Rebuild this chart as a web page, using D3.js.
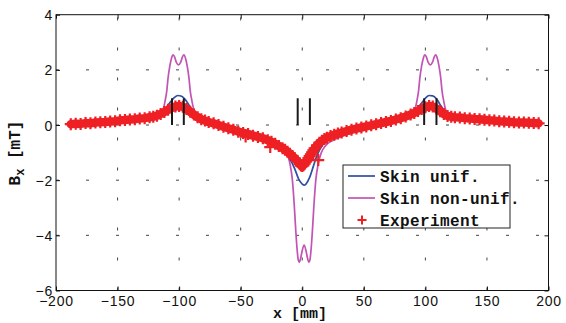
<!DOCTYPE html>
<html>
<head>
<meta charset="utf-8">
<script src="https://cdn.jsdelivr.net/npm/d3@7"></script>
<style>
  body { margin: 0; background: #fff; }
  .tick text { font-family: "Liberation Sans", Arial, sans-serif; font-size: 14px; letter-spacing: 0.8px; fill: #111; }
  .lbl { font-family: "Liberation Mono", "Courier New", monospace; font-weight: bold; font-size: 16px; fill: #111; }
</style>
</head>
<body>
<svg id="chart" width="566" height="323"></svg>
<script>
// tick values
const xTicks = [-200, -150, -100, -50, 0, 50, 100, 150, 200];
const yTicks = [-6, -4, -2, 0, 2, 4];

// Skin unif. (blue)
const unifX = [-190, -170, -150, -135, -125, -118, -113, -110, -107, -104, -101, -98, -95, -92, -89, -85, -78, -68, -55, -45, -35, -25, -17, -11, -6, -3, 0, 1.5, 3, 6, 9, 12, 16, 22, 30, 40, 55, 70, 80, 88, 93, 97, 100, 103, 106, 109, 112, 115, 119, 126, 140, 160, 190];
const unifY = [0.03, 0.07, 0.14, 0.21, 0.28, 0.38, 0.52, 0.66, 0.84, 0.99, 1.07, 1.04, 0.92, 0.72, 0.52, 0.36, 0.2, 0.04, -0.14, -0.27, -0.41, -0.6, -0.85, -1.15, -1.6, -1.95, -2.14, -2.18, -2.14, -1.9, -1.5, -1.1, -0.75, -0.5, -0.32, -0.18, 0.0, 0.15, 0.27, 0.42, 0.58, 0.8, 0.97, 1.07, 1.06, 0.95, 0.74, 0.55, 0.4, 0.28, 0.18, 0.1, 0.04];

// Skin non-unif. (magenta)
const nonUnifX = [-190, -150, -130, -120, -115, -113, -111.5, -110, -109, -107.5, -106, -105, -103.8, -102.3, -100.5, -98.7, -97.2, -96, -95, -93.5, -92, -91, -89.5, -88, -86, -80.5, -70, -55, -40, -30, -22, -16, -12.5, -10, -8, -6.5, -5.3, -4.2, -3.2, -2.4, -1.4, 0, 1.5, 3, 4.4, 5.4, 6.2, 7.2, 8.3, 9.5, 11, 13, 15.5, 19, 25, 33, 43, 58, 73, 84, 89.5, 91.5, 93, 94.5, 95.5, 97, 98.5, 99.5, 100.7, 102.2, 104, 105.8, 107.3, 108.5, 109.5, 111, 112.5, 113.5, 115, 116.5, 118.5, 124, 134, 154, 190];
const nonUnifY = [0.03, 0.13, 0.22, 0.3, 0.4, 0.55, 0.85, 1.25, 1.7, 2.15, 2.45, 2.54, 2.48, 2.28, 2.18, 2.28, 2.48, 2.54, 2.45, 2.15, 1.7, 1.25, 0.85, 0.55, 0.4, 0.3, 0.12, -0.08, -0.25, -0.4, -0.55, -0.75, -1.0, -1.4, -2.0, -2.9, -3.8, -4.5, -4.9, -4.98, -4.85, -4.55, -4.35, -4.55, -4.85, -4.98, -4.9, -4.5, -3.8, -2.9, -2.0, -1.4, -1.0, -0.75, -0.55, -0.4, -0.25, -0.08, 0.12, 0.3, 0.4, 0.55, 0.85, 1.25, 1.7, 2.15, 2.45, 2.54, 2.48, 2.28, 2.18, 2.28, 2.48, 2.54, 2.45, 2.15, 1.7, 1.25, 0.85, 0.55, 0.4, 0.3, 0.22, 0.13, 0.05];

// Experiment (red +)
const expX = [-188, -184, -180, -176, -172, -168, -164, -160, -156, -152, -148, -144, -140, -136, -132, -128, -124, -121, -118, -115, -112, -109, -106, -103, -100, -97, -94, -91, -88, -85, -82, -79, -76, -72, -68, -64, -60, -56, -52, -48, -44, -40, -36, -32, -28, -25, -22, -19, -16, -14, -12, -10, -8, -6, -4, -2, -1, 0, 1, 2, 3, 4, 5, 6, 7, 8, 9, 10, 12, 14, 16, 18, 20, 23, 26, 29, 32, 36, 40, 44, 48, 52, 56, 60, 64, 68, 72, 76, 80, 84, 88, 91, 94, 97, 100, 103, 106, 109, 112, 115, 118, 121, 124, 128, 132, 136, 140, 144, 148, 152, 156, 160, 164, 168, 172, 176, 180, 184, 188, 192];
const expY = [0.03, 0.05, 0.04, 0.07, 0.06, 0.09, 0.1, 0.11, 0.13, 0.14, 0.17, 0.18, 0.2, 0.21, 0.24, 0.25, 0.28, 0.3, 0.34, 0.4, 0.47, 0.55, 0.62, 0.67, 0.69, 0.66, 0.58, 0.48, 0.38, 0.28, 0.21, 0.16, 0.11, 0.06, 0.0, -0.06, -0.12, -0.17, -0.24, -0.29, -0.33, -0.39, -0.43, -0.48, -0.55, -0.61, -0.68, -0.76, -0.84, -0.9, -0.97, -1.04, -1.12, -1.21, -1.31, -1.42, -1.47, -1.49, -1.46, -1.4, -1.33, -1.27, -1.2, -1.13, -1.06, -0.99, -0.92, -0.85, -0.74, -0.64, -0.57, -0.51, -0.46, -0.4, -0.35, -0.31, -0.27, -0.22, -0.17, -0.13, -0.09, -0.05, -0.01, 0.03, 0.07, 0.11, 0.15, 0.2, 0.25, 0.31, 0.38, 0.44, 0.51, 0.58, 0.64, 0.69, 0.67, 0.6, 0.5, 0.4, 0.33, 0.3, 0.28, 0.27, 0.25, 0.24, 0.22, 0.21, 0.19, 0.17, 0.16, 0.14, 0.13, 0.12, 0.1, 0.09, 0.09, 0.08, 0.07, 0.06];
// a few stray experimental points off the band
const strayX = [-46, -26, 13];
const strayY = [-0.42, -0.8, -1.27];

// black vertical markers (from 0 up to markTop)
const markX = [-105.8, -96.2, -3.7, 6.2, 99, 109];
const markTop = 0.97;

const legendNames = ["Skin unif.", "Skin non-unif.", "Experiment"];
const colors = { unif: "#2d4fa3", nonunif: "#c154b5", exp: "#ee2024" };

const svg = d3.select("#chart");
const x = d3.scaleLinear().domain([-200, 200]).range([56, 548.5]);
const y = d3.scaleLinear().domain([-6, 4]).range([290.5, 14.7]);

// grid (sparse dotted like the original)
const grid = svg.append("g");
grid.selectAll(".hg")
  .data(yTicks.slice(1, -1))
  .enter().append("line")
  .attr("x1", x(-200)).attr("x2", x(200))
  .attr("y1", d => y(d)).attr("y2", d => y(d))
  .attr("stroke", "#444").attr("stroke-width", 1)
  .attr("stroke-dasharray", "3,27");
grid.selectAll(".vg")
  .data(xTicks.slice(1, -1))
  .enter().append("line")
  .attr("x1", d => x(d)).attr("x2", d => x(d))
  .attr("y1", y(-6)).attr("y2", y(4))
  .attr("stroke", "#444").attr("stroke-width", 1)
  .attr("stroke-dasharray", "3,27");

// curves
const line = d3.line().x(d => x(d[0])).y(d => y(d[1])).curve(d3.curveMonotoneX);
svg.append("path")
  .datum(d3.zip(nonUnifX, nonUnifY))
  .attr("d", line).attr("fill", "none")
  .attr("stroke", colors.nonunif).attr("stroke-width", 1.7);
svg.append("path")
  .datum(d3.zip(unifX, unifY))
  .attr("d", line).attr("fill", "none")
  .attr("stroke", colors.unif).attr("stroke-width", 1.7);

// experiment: dense band of + markers
const plus = (s) => `M${-s},0H${s}M0,${-s}V${s}`;
const expPts = d3.zip(expX, expY);
svg.append("path")
  .datum(expPts)
  .attr("d", d3.line().x(d => x(d[0])).y(d => y(d[1])))
  .attr("fill", "none").attr("stroke", colors.exp)
  .attr("stroke-width", 8.5).attr("stroke-linejoin", "round").attr("stroke-linecap", "round");
svg.append("g").selectAll("path")
  .data(expPts.concat(d3.zip(strayX, strayY)))
  .enter().append("path")
  .attr("transform", d => `translate(${x(d[0])},${y(d[1])})`)
  .attr("d", plus(6))
  .attr("stroke", colors.exp).attr("stroke-width", 2.2).attr("fill", "none");

// black vertical lines
svg.append("g").selectAll("line")
  .data(markX)
  .enter().append("line")
  .attr("x1", d => x(d)).attr("x2", d => x(d))
  .attr("y1", y(0)).attr("y2", y(markTop))
  .attr("stroke", "#1a1a1a").attr("stroke-width", 2);

// axes, ticks inside on all sides
svg.append("rect")
  .attr("x", x(-200)).attr("y", y(4))
  .attr("width", x(200) - x(-200)).attr("height", y(-6) - y(4))
  .attr("fill", "none").attr("stroke", "#111").attr("stroke-width", 1);

const gx = svg.append("g").attr("transform", `translate(0,${y(-6)})`)
  .call(d3.axisBottom(x).tickValues(xTicks).tickSize(-4).tickPadding(6)
    .tickFormat(d => d < 0 ? "\u2212" + Math.abs(d) : d));
const gxt = svg.append("g").attr("transform", `translate(0,${y(4)})`)
  .call(d3.axisTop(x).tickValues(xTicks).tickSize(-4).tickFormat(""));
const gy = svg.append("g").attr("transform", `translate(${x(-200)},0)`)
  .call(d3.axisLeft(y).tickValues(yTicks).tickSize(-4).tickPadding(3)
    .tickFormat(d => d < 0 ? "\u2212" + Math.abs(d) : d));
const gyr = svg.append("g").attr("transform", `translate(${x(200)},0)`)
  .call(d3.axisRight(y).tickValues(yTicks).tickSize(-4).tickFormat(""));
[gx, gxt, gy, gyr].forEach(g => {
  g.select(".domain").remove();
  g.selectAll(".tick line").attr("stroke", "#111");
});
gy.selectAll(".tick text").attr("dy", "0.36em");

// axis labels
svg.append("text").attr("class", "lbl")
  .attr("x", 300).attr("y", 318).attr("text-anchor", "middle")
  .style("font-size", "15px")
  .text("x [mm]");
const yl = svg.append("text").attr("class", "lbl")
  .attr("transform", "translate(20,153) rotate(-90)")
  .attr("text-anchor", "middle");
yl.append("tspan").text("B");
yl.append("tspan").attr("font-size", "12px").attr("dy", 4).text("x");
yl.append("tspan").attr("dy", -4).text(" [mT]");

// legend
const lg = svg.append("g");
lg.append("rect").attr("x", 343).attr("y", 165).attr("width", 167).attr("height", 63)
  .attr("fill", "#fff").attr("stroke", "#222").attr("stroke-width", 1);
const rows = [176, 198, 220];
lg.append("line").attr("x1", 348).attr("x2", 375).attr("y1", rows[0]).attr("y2", rows[0])
  .attr("stroke", colors.unif).attr("stroke-width", 1.7);
lg.append("line").attr("x1", 348).attr("x2", 375).attr("y1", rows[1]).attr("y2", rows[1])
  .attr("stroke", colors.nonunif).attr("stroke-width", 1.7);
lg.append("path").attr("transform", `translate(362,${rows[2]})`).attr("d", plus(4.5))
  .attr("stroke", colors.exp).attr("stroke-width", 2).attr("fill", "none");
lg.selectAll("text").data(legendNames).enter().append("text")
  .attr("class", "lbl").attr("x", 380).attr("y", (d, i) => rows[i] + 5.5)
  .style("letter-spacing", "0.4px")
  .text(d => d);
</script>
</body>
</html>
